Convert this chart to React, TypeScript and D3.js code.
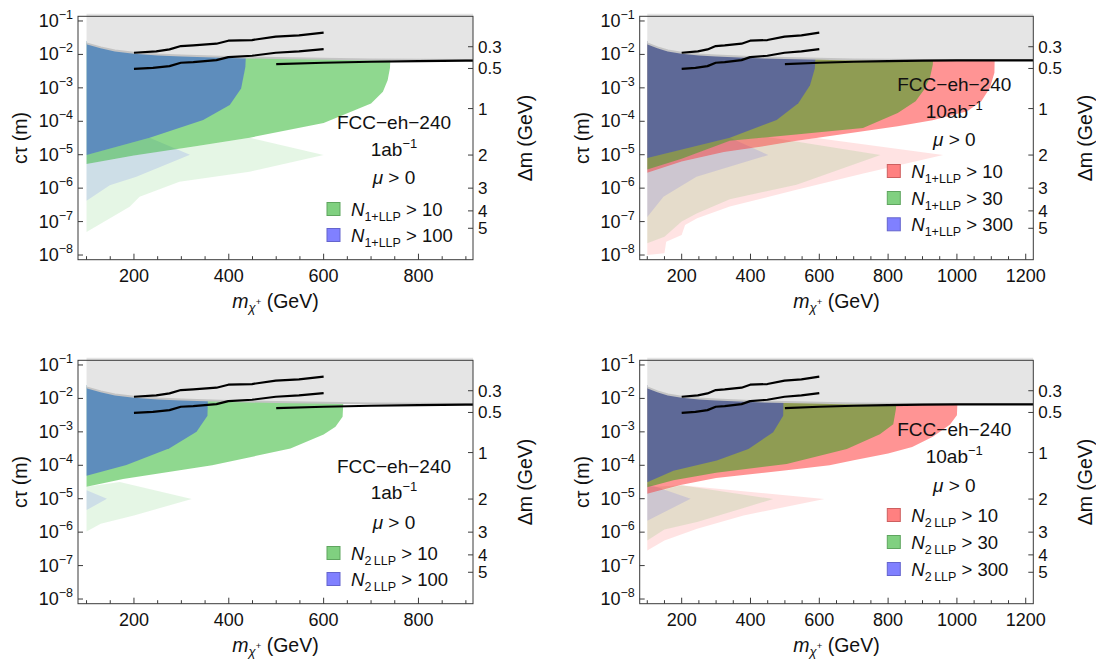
import React from "react";
import * as d3 from "d3";

type P = [number, number]; // [mass GeV, log10(c tau / m)]

// ---------- shared data ----------
const yTickExps = [-1, -2, -3, -4, -5, -6, -7, -8];
const dmLabels = ["0.3", "0.5", "1", "2", "3", "4", "5"];
const dmPosExp = [-1.77, -2.42, -3.62, -5.01, -6.0, -6.68, -7.2];

const grayBoundary: P[] = [[100, -1.67], [130, -1.79], [160, -1.88], [200, -1.95], [250, -2.0], [300, -2.03], [400, -2.08], [500, -2.11], [600, -2.13], [700, -2.15], [800, -2.16], [900, -2.17], [1222, -2.17]];
const grayTop = -0.78;

const lineA: P[] = [[200, -1.95], [247, -1.91], [275, -1.85], [299, -1.75], [325, -1.73], [374, -1.68], [399, -1.59], [449, -1.57], [499, -1.47], [548, -1.43], [600, -1.35]];
const lineB: P[] = [[200, -2.43], [240, -2.4], [275, -2.35], [299, -2.25], [325, -2.23], [374, -2.17], [399, -2.08], [449, -2.04], [499, -1.95], [548, -1.91], [600, -1.84]];
const lineC: P[] = [[500, -2.29], [600, -2.25], [700, -2.22], [800, -2.2], [900, -2.185], [1000, -2.18], [1222, -2.18]];

// ---------- panel 1: 1 ab^-1, N1+LLP ----------
const greenMain1: P[] = [[100, -1.6], [100, -5.28], [200, -5.02], [330, -4.75], [444, -4.49], [600, -4.05], [700, -3.47], [725, -3.12], [735, -2.77], [740, -2.4], [741, -2.0]];
const blueMain1: P[] = [[100, -1.6], [100, -5.01], [233, -4.49], [346, -3.96], [402, -3.51], [426, -3.02], [435, -2.37], [436, -2.0]];
const greenFaint1: P[] = [[100, -5.28], [200, -5.02], [330, -4.75], [444, -4.49], [600, -5.01], [444, -5.51], [296, -5.81], [212, -6.26], [191, -6.56], [100, -7.31]];
const blueFaint1: P[] = [[100, -5.01], [233, -4.49], [318, -5.0], [205, -5.66], [149, -5.91], [100, -6.38]];

// ---------- panel 2: 10 ab^-1, N1+LLP ----------
const redMain2: P[] = [[100, -1.6], [100, -5.54], [200, -5.2], [323, -4.92], [424, -4.77], [525, -4.6], [626, -4.45], [727, -4.3], [828, -4.15], [929, -3.97], [1030, -3.7], [1071, -3.4], [1096, -3.0], [1109, -2.55], [1110, -2.0]];
const greenMain2: P[] = [[100, -1.6], [100, -5.44], [200, -5.12], [340, -4.58], [525, -4.4], [727, -4.2], [828, -3.75], [880, -3.4], [905, -3.05], [922, -2.68], [930, -2.3], [931, -2.0]];
const blueMain2: P[] = [[100, -1.6], [100, -5.1], [340, -4.49], [476, -3.96], [539, -3.46], [573, -2.92], [587, -2.42], [589, -2.0]];
const redFaint2: P[] = [[100, -5.54], [200, -5.2], [323, -4.92], [424, -4.77], [525, -4.6], [592, -4.5], [960, -5.01], [728, -5.56], [534, -6.05], [340, -6.55], [245, -6.9], [210, -7.1], [200, -7.4], [155, -7.6], [150, -7.95], [100, -8.0]];
const greenFaint2: P[] = [[100, -5.44], [200, -5.12], [340, -4.58], [450, -4.47], [778, -5.01], [534, -5.9], [340, -6.33], [245, -6.75], [200, -7.0], [150, -7.45], [100, -7.65]];
const blueFaint2: P[] = [[100, -5.1], [340, -4.49], [452, -5.01], [243, -5.66], [147, -6.26], [100, -6.86]];

// ---------- panel 3: 1 ab^-1, N2LLP ----------
const greenMain3: P[] = [[100, -1.6], [100, -4.64], [177, -4.41], [365, -4.0], [530, -3.5], [600, -3.08], [625, -2.85], [640, -2.55], [642, -2.0]];
const blueMain3: P[] = [[100, -1.6], [100, -4.31], [184, -3.99], [275, -3.49], [332, -3.0], [355, -2.52], [356, -2.0]];
const greenFaint3: P[] = [[100, -4.64], [170, -4.5], [322, -5.01], [200, -5.5], [130, -5.75], [100, -5.98]];
const blueFaint3: P[] = [[100, -4.75], [143, -5.0], [100, -5.34]];

// ---------- panel 4: 10 ab^-1, N2LLP ----------
const redMain4: P[] = [[100, -1.6], [100, -4.85], [200, -4.58], [300, -4.38], [505, -4.15], [630, -4.0], [700, -3.85], [800, -3.65], [870, -3.45], [930, -3.15], [980, -2.78], [1000, -2.5], [1002, -2.0]];
const greenMain4: P[] = [[100, -1.6], [100, -4.66], [176, -4.45], [300, -4.22], [505, -3.96], [680, -3.51], [776, -3.07], [815, -2.77], [823, -2.3], [824, -2.0]];
const blueMain4: P[] = [[100, -1.6], [100, -4.51], [176, -4.16], [302, -3.86], [394, -3.51], [466, -3.01], [495, -2.52], [496, -2.0]];
const redFaint4: P[] = [[100, -4.85], [200, -4.6], [615, -5.01], [380, -5.5], [245, -5.9], [150, -6.25], [100, -6.55]];
const greenFaint4: P[] = [[100, -4.66], [200, -4.6], [466, -5.01], [245, -5.7], [150, -5.92], [100, -6.25]];
const blueFaint4: P[] = [[100, -4.55], [226, -5.0], [100, -5.66]];

// ---------- legends / annotations ----------
const lumi1 = "1ab";
const lumi10 = "10ab";
const thresholds1 = ["10", "100"];
const thresholds10 = ["10", "30", "300"];
const sub1 = "1+LLP";
const sub2 = "2\u2009LLP";

// ---------- styles ----------
const FONT = "'Liberation Sans', Arial, Helvetica, sans-serif";
const COL = { red: "rgb(255,0,0)", green: "rgb(0,166,0)", blue: "rgb(20,30,255)" };
const MAIN_OP = { red: 0.42, green: 0.44, blue: 0.4 };
const FAINT_OP = { red: 0.11, green: 0.1, blue: 0.11 };
const SWATCH = {
  red: ["rgb(255,128,128)", "rgb(205,95,95)"],
  green: ["rgb(128,208,128)", "rgb(95,165,95)"],
  blue: ["rgb(128,128,255)", "rgb(100,100,205)"],
};

type Layer = { pts: P[]; c: keyof typeof COL; faint: boolean };
type Cfg = {
  px: [number, number];
  py: [number, number];
  xd: [number, number];
  layers: Layer[];
  lumi: string;
  sub: string;
  legend: { c: keyof typeof COL; t: string }[];
  annY: number[];
  legY: number[];
};

const PX1: [number, number] = [78, 473];
const PX2: [number, number] = [639.7, 1033.3];
const PY1: [number, number] = [16.3, 259.7];
const PY2: [number, number] = [360.3, 603.7];

const panels: Cfg[] = [
  {
    px: PX1, py: PY1, xd: [82, 915],
    layers: [
      { pts: greenFaint1, c: "green", faint: true },
      { pts: blueFaint1, c: "blue", faint: true },
      { pts: greenMain1, c: "green", faint: false },
      { pts: blueMain1, c: "blue", faint: false },
    ],
    lumi: lumi1, sub: sub1,
    legend: [{ c: "green", t: thresholds1[0] }, { c: "blue", t: thresholds1[1] }],
    annY: [112.7, 139.7, 167.7], legY: [192.7, 218.7],
  },
  {
    px: PX2, py: PY1, xd: [78, 1222],
    layers: [
      { pts: redFaint2, c: "red", faint: true },
      { pts: greenFaint2, c: "green", faint: true },
      { pts: blueFaint2, c: "blue", faint: true },
      { pts: redMain2, c: "red", faint: false },
      { pts: greenMain2, c: "green", faint: false },
      { pts: blueMain2, c: "blue", faint: false },
    ],
    lumi: lumi10, sub: sub1,
    legend: [{ c: "red", t: thresholds10[0] }, { c: "green", t: thresholds10[1] }, { c: "blue", t: thresholds10[2] }],
    annY: [74.7, 101.7, 129.7], legY: [154.7, 181.7, 208.0],
  },
  {
    px: PX1, py: PY2, xd: [82, 915],
    layers: [
      { pts: greenFaint3, c: "green", faint: true },
      { pts: blueFaint3, c: "blue", faint: true },
      { pts: greenMain3, c: "green", faint: false },
      { pts: blueMain3, c: "blue", faint: false },
    ],
    lumi: lumi1, sub: sub2,
    legend: [{ c: "green", t: thresholds1[0] }, { c: "blue", t: thresholds1[1] }],
    annY: [112.7, 138.7, 168.7], legY: [192.7, 218.7],
  },
  {
    px: PX2, py: PY2, xd: [78, 1222],
    layers: [
      { pts: redFaint4, c: "red", faint: true },
      { pts: greenFaint4, c: "green", faint: true },
      { pts: blueFaint4, c: "blue", faint: true },
      { pts: redMain4, c: "red", faint: false },
      { pts: greenMain4, c: "green", faint: false },
      { pts: blueMain4, c: "blue", faint: false },
    ],
    lumi: lumi10, sub: sub2,
    legend: [{ c: "red", t: thresholds10[0] }, { c: "green", t: thresholds10[1] }, { c: "blue", t: thresholds10[2] }],
    annY: [75.7, 102.7, 131.7], legY: [154.7, 181.7, 208.7],
  },
];

function Panel({ cfg, idx }: { cfg: Cfg; idx: number }) {
  const [x0, x1] = cfg.px;
  const [y0, y1] = cfg.py;
  const x = d3.scaleLinear().domain(cfg.xd).range([x0, x1]);
  const y = d3.scaleLog().domain([Math.pow(10, -8.14), Math.pow(10, -0.86)]).range([y1, y0]);
  const line = d3.line<P>().x((d) => x(d[0])).y((d) => y(Math.pow(10, d[1])));
  const area = (pts: P[]) => (line(pts) || "") + "Z";
  const grayPoly: P[] = [[grayBoundary[0][0], grayTop], [grayBoundary[grayBoundary.length - 1][0], grayTop], ...grayBoundary.slice().reverse()];
  const clipId = `clip${idx}`;
  const xTicks = d3.range(100, cfg.xd[1] + 1, 50);
  const midY = (y0 + y1) / 2;
  const cx = x1 - 79;
  const fs = 18;

  return (
    <g>
      <defs>
        <clipPath id={clipId}>
          <rect x={x0} y={y0 - 4} width={x1 - x0} height={y1 - y0 + 4} />
        </clipPath>
      </defs>
      <g clipPath={`url(#${clipId})`}>
        {cfg.layers.map((l, i) => (
          <path key={i} d={area(l.pts)} fill={COL[l.c]} fillOpacity={l.faint ? FAINT_OP[l.c] : MAIN_OP[l.c]} stroke="none" />
        ))}
        <path d={area(grayPoly)} fill="#e5e5e5" stroke="none" />
        <path d={line(grayBoundary) || ""} fill="none" stroke="#c4c4c4" strokeWidth={2} />
        {[lineA, lineB, lineC].map((l, i) => (
          <path key={i} d={line(l) || ""} fill="none" stroke="#000" strokeWidth={2.2} strokeLinejoin="round" />
        ))}
      </g>
      <rect x={x0} y={y0} width={x1 - x0} height={y1 - y0} fill="none" stroke="#3a3a3a" strokeWidth={1} />
      {xTicks.map((v) => {
        const major = v % 200 === 0;
        return (
          <g key={v}>
            <line x1={x(v)} x2={x(v)} y1={y1} y2={y1 - (major ? 6 : 3.5)} stroke="#3a3a3a" strokeWidth={1} />
            {major && (
              <text x={x(v)} y={y1 + 22} textAnchor="middle" fontSize={fs} fontFamily={FONT} fill="#111">{v}</text>
            )}
          </g>
        );
      })}
      {yTickExps.map((e) => (
        <g key={e}>
          <line x1={x0} x2={x0 + 5} y1={y(Math.pow(10, e))} y2={y(Math.pow(10, e))} stroke="#3a3a3a" />
          <text x={x0 - 5} y={y(Math.pow(10, e)) + 6} textAnchor="end" fontSize={fs} fontFamily={FONT} fill="#111">
            <tspan>10</tspan>
            <tspan dy={-8} fontSize={12.5}>{"\u2212" + Math.abs(e)}</tspan>
          </text>
        </g>
      ))}
      {dmLabels.map((t, i) => (
        <g key={t}>
          <line x1={x1 - 5} x2={x1} y1={y(Math.pow(10, dmPosExp[i]))} y2={y(Math.pow(10, dmPosExp[i]))} stroke="#3a3a3a" />
          <text x={x1 + 5} y={y(Math.pow(10, dmPosExp[i])) + 6} fontSize={17} fontFamily={FONT} fill="#111">{t}</text>
        </g>
      ))}
      <text x={(x0 + x1) / 2} y={y1 + 48} textAnchor="middle" fontSize={19.5} fontFamily={FONT} fill="#111">
        <tspan fontStyle="italic">m</tspan>
        <tspan dy={4.5} fontSize={13} fontStyle="italic">{"\u03c7"}</tspan>
        <tspan dy={-7} fontSize={9.5}>+</tspan>
        <tspan dy={2.5}>{" (GeV)"}</tspan>
      </text>
      <text transform={`translate(${x0 - 58},${midY}) rotate(-90)`} textAnchor="middle" dominantBaseline="central" fontSize={19.5} fontFamily={FONT} fill="#111">
        {"c\u03c4 (m)"}
      </text>
      <text transform={`translate(${x1 + 52},${midY}) rotate(-90)`} textAnchor="middle" dominantBaseline="central" fontSize={19.5} fontFamily={FONT} fill="#111">
        {"\u0394m (GeV)"}
      </text>
      <text x={cx} y={y0 + cfg.annY[0]} textAnchor="middle" fontSize={19} fontFamily={FONT} fill="#111">{"FCC\u2212eh\u2212240"}</text>
      <text x={cx} y={y0 + cfg.annY[1]} textAnchor="middle" fontSize={19} fontFamily={FONT} fill="#111">
        <tspan>{cfg.lumi}</tspan>
        <tspan dy={-8} fontSize={13}>{"\u22121"}</tspan>
      </text>
      <text x={cx} y={y0 + cfg.annY[2]} textAnchor="middle" fontSize={19} fontFamily={FONT} fill="#111">
        <tspan fontStyle="italic">{"\u03bc"}</tspan>
        <tspan>{" > 0"}</tspan>
      </text>
      {cfg.legend.map((e, i) => {
        const cy = y0 + cfg.legY[i];
        return (
          <g key={i}>
            <rect x={x1 - 146} y={cy - 6.5} width={13} height={13} fill={SWATCH[e.c][0]} stroke={SWATCH[e.c][1]} strokeWidth={1} />
            <text x={x1 - 122} y={cy + 6.5} fontSize={18.5} fontFamily={FONT} fill="#111">
              <tspan fontStyle="italic">N</tspan>
              <tspan dy={5} fontSize={12.5}>{cfg.sub}</tspan>
              <tspan dy={-5}>{" > " + e.t}</tspan>
            </text>
          </g>
        );
      })}
    </g>
  );
}

export default function App() {
  return (
    <svg width={1096} height={661} viewBox="0 0 1096 661" style={{ position: "absolute", left: 0, top: 0, background: "#fff" }}>
      <rect x={0} y={0} width={1096} height={661} fill="#fff" />
      {panels.map((p, i) => (
        <Panel key={i} cfg={p} idx={i} />
      ))}
    </svg>
  );
}
